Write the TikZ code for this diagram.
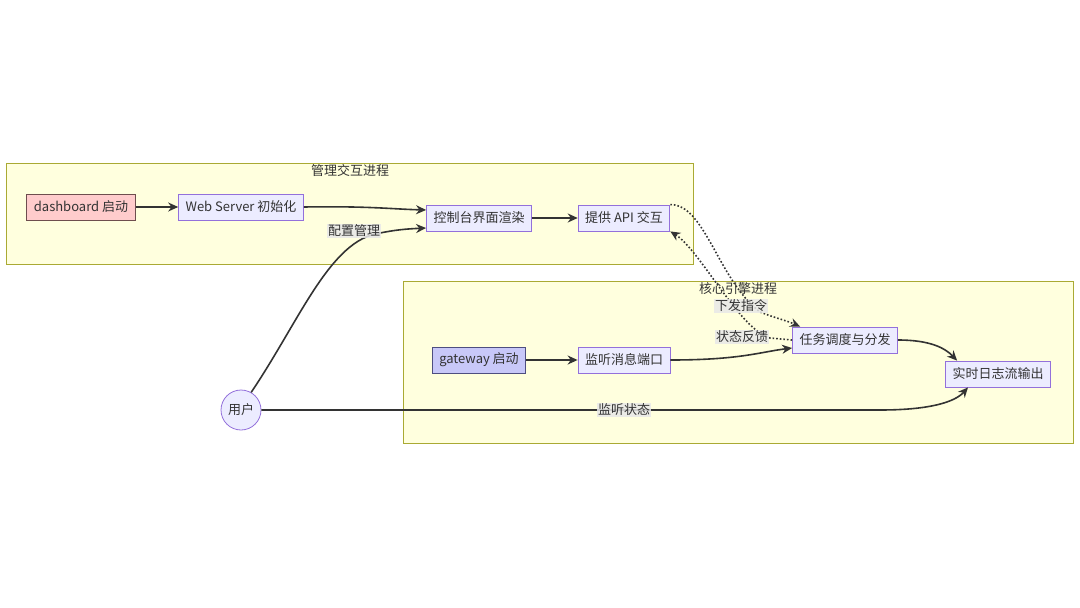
\documentclass[tikz,border=0pt]{standalone}
\usepackage{fontspec}
\setmainfont{Noto Sans CJK SC}
\usetikzlibrary{arrows.meta}
\definecolor{nodefill}{HTML}{ECECFF}
\definecolor{nodeline}{HTML}{9370DB}
\definecolor{clfill}{HTML}{FFFFDE}
\definecolor{clline}{HTML}{AAAA33}
\definecolor{edge}{HTML}{333333}
\definecolor{lblbg}{HTML}{E8E8E8}
\definecolor{pinkfill}{HTML}{FFCCCC}
\definecolor{pinkline}{HTML}{6E4E4E}
\definecolor{bluefill}{HTML}{C8C8F8}
\definecolor{blueline}{HTML}{4E4E80}
\tikzset{
  proc/.style={draw=nodeline, fill=nodefill, line width=0.8pt, minimum height=26pt, inner xsep=7pt, font=\fontsize{13}{15}\selectfont, text=edge},
  cluster/.style={draw=clline, fill=clfill, line width=0.8pt},
  cltitle/.style={font=\fontsize{13}{15}\selectfont, text=edge, inner sep=1pt},
  elbl/.style={fill=lblbg, fill opacity=0.85, text opacity=1, font=\fontsize{13}{15}\selectfont, text=edge, inner sep=1pt},
  conn/.style={draw=edge, line width=1.6pt, -{Stealth[length=10pt,width=9pt]}},
  dconn/.style={draw=edge, line width=1.6pt, dotted, -{Stealth[length=10pt,width=9pt]}},
}
\begin{document}
\begin{tikzpicture}[x=1pt,y=-1pt]
\useasboundingbox (0,0) rectangle (1080,608);
% clusters
\draw[cluster] (6,163) rectangle (693,264);
\draw[cluster] (403,281) rectangle (1073,443);
\node[cltitle] (t1) at (350,171) {管理交互进程};
% nodes
\node[proc, fill=pinkfill, draw=pinkline] (dash) at (81,207) {dashboard 启动};
\node[proc] (web) at (241,207) {Web Server 初始化};
\node[proc] (ctrl) at (479,218) {控制台界面渲染};
\node[proc] (api) at (624,218) {提供 API 交互};
\node[proc, fill=bluefill, draw=blueline] (gw) at (479,360) {gateway 启动};
\node[proc] (listen) at (624,360) {监听消息端口};
\node[proc] (task) at (845,340) {任务调度与分发};
\node[proc] (log) at (998,374) {实时日志流输出};
\node[draw=nodeline, fill=nodefill, line width=0.8pt, circle, minimum size=40pt, inner sep=0pt, font=\fontsize{13}{15}\selectfont, text=edge] (user) at (241,410) {用户};
% edges
\draw[conn] (dash) -- (web);
\draw[conn] (web.east) .. controls (370,206) and (390,209) .. ([yshift=8pt]ctrl.west);
\draw[conn] (ctrl) -- (api);
\draw[conn] (user.60) .. controls (300,320) and (330,240) .. (380,233) .. controls (395,230) and (405,229) .. ([yshift=-10pt]ctrl.west);
\draw[conn] (gw) -- (listen);
\draw[conn] (listen.east) .. controls (740,360) and (760,352) .. ([yshift=-8pt]task.west);
\draw[conn] (task.east) .. controls (930,340) and (945,348) .. ([xshift=12pt]log.north west);
\draw[conn] (user.east) -- (880,410) .. controls (930,410) and (955,402) .. ([xshift=-30pt]log.south);
\draw[dconn] (api.north east) .. controls (705,204) and (718,280) .. (760,312) .. controls (775,318) and (785,320) .. ([xshift=8pt]task.north west);
\draw[dconn] (task.west) -- (770,338) .. controls (740,330) and (700,250) .. (api.south east);
% title over lines
\node[cltitle] (t2) at (738,289) {核心引擎进程};
% labels
\node[elbl] (l1) at (354,231) {配置管理};
\node[elbl] (l2) at (741,306) {下发指令};
\node[elbl] (l3) at (742,337) {状态反馈};
\node[elbl] (l4) at (624,410) {监听状态};
\end{tikzpicture}
\end{document}
